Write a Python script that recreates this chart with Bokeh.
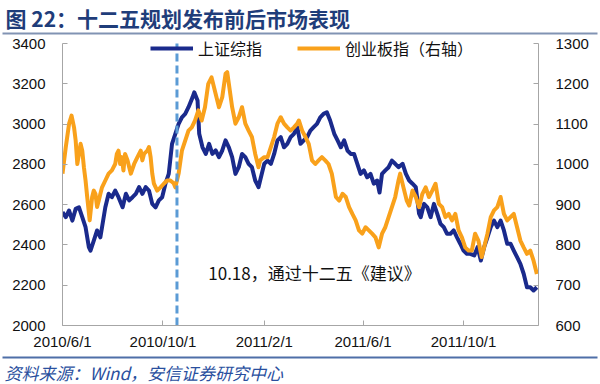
import pandas as pd
from bokeh.plotting import figure
from bokeh.layouts import column
from bokeh.core.properties import value
from bokeh.models import (Range1d, LinearAxis, FixedTicker, CustomJSTickFormatter,
                          Label, Legend, LegendItem, ColumnDataSource)
from bokeh.embed import file_html
from bokeh.resources import INLINE

# ---------------- data ----------------
sh_dates = [
    "2010-06-01", "2010-06-05", "2010-06-09", "2010-06-13", "2010-06-17", "2010-06-21", "2010-06-25", "2010-06-29",
    "2010-07-03", "2010-07-05", "2010-07-09", "2010-07-13", "2010-07-17", "2010-07-19", "2010-07-23", "2010-07-27",
    "2010-07-31", "2010-08-04", "2010-08-08", "2010-08-13", "2010-08-17", "2010-08-21", "2010-08-25", "2010-08-29",
    "2010-09-02", "2010-09-06", "2010-09-10", "2010-09-14", "2010-09-18", "2010-09-22", "2010-09-26", "2010-09-30",
    "2010-10-04", "2010-10-08", "2010-10-12", "2010-10-16", "2010-10-20", "2010-10-24", "2010-10-28", "2010-11-01",
    "2010-11-06", "2010-11-08", "2010-11-12", "2010-11-14", "2010-11-18", "2010-11-22", "2010-11-26", "2010-11-30",
    "2010-12-04", "2010-12-08", "2010-12-12", "2010-12-16", "2010-12-20", "2010-12-24", "2010-12-28", "2011-01-01",
    "2011-01-05", "2011-01-09", "2011-01-13", "2011-01-17", "2011-01-21", "2011-01-25", "2011-01-27", "2011-02-01",
    "2011-02-05", "2011-02-09", "2011-02-13", "2011-02-17", "2011-02-21", "2011-02-25", "2011-03-01", "2011-03-05",
    "2011-03-09", "2011-03-13", "2011-03-17", "2011-03-21", "2011-03-25", "2011-03-29", "2011-04-02", "2011-04-06",
    "2011-04-10", "2011-04-14", "2011-04-18", "2011-04-22", "2011-04-27", "2011-05-01", "2011-05-05", "2011-05-09",
    "2011-05-13", "2011-05-17", "2011-05-21", "2011-05-25", "2011-05-29", "2011-06-02", "2011-06-06", "2011-06-10",
    "2011-06-14", "2011-06-18", "2011-06-21", "2011-06-24", "2011-06-28", "2011-07-02", "2011-07-06", "2011-07-10",
    "2011-07-14", "2011-07-19", "2011-07-23", "2011-07-27", "2011-07-31", "2011-08-04", "2011-08-08", "2011-08-10",
    "2011-08-14", "2011-08-18", "2011-08-22", "2011-08-26", "2011-08-30", "2011-09-03", "2011-09-07", "2011-09-11",
    "2011-09-15", "2011-09-19", "2011-09-23", "2011-09-27", "2011-10-01", "2011-10-05", "2011-10-09", "2011-10-14",
    "2011-10-18", "2011-10-22", "2011-10-26", "2011-10-30", "2011-11-03", "2011-11-07", "2011-11-11", "2011-11-15",
    "2011-11-19", "2011-11-23", "2011-11-27", "2011-12-01", "2011-12-05", "2011-12-09", "2011-12-13", "2011-12-17",
    "2011-12-21", "2011-12-25", "2011-12-29",
]
sh_values = [
    2563, 2538, 2571, 2521, 2579, 2587, 2538, 2488,
    2389, 2372, 2422, 2472, 2438, 2488, 2587, 2654,
    2637, 2670, 2637, 2587, 2654, 2621, 2637, 2654,
    2687, 2654, 2687, 2670, 2604, 2587, 2621, 2637,
    2704, 2753, 2902, 2952, 3001, 3034, 3051, 3084,
    3134, 3158, 3117, 2952, 2885, 2852, 2902, 2852,
    2869, 2836, 2869, 2919, 2885, 2836, 2753, 2786,
    2852, 2836, 2803, 2786, 2720, 2687, 2720, 2803,
    2819, 2803, 2852, 2919, 2935, 2885, 2902, 2935,
    2952, 2985, 2902, 2919, 2935, 2968, 2985, 3001,
    3034, 3051, 3059, 3018, 2952, 2919, 2885, 2919,
    2869, 2852, 2852, 2803, 2753, 2770, 2736, 2753,
    2704, 2720, 2660, 2753, 2770, 2786, 2819, 2803,
    2786, 2803, 2753, 2720, 2704, 2687, 2555, 2538,
    2604, 2587, 2538, 2604, 2555, 2505, 2488, 2455,
    2455, 2472, 2438, 2406, 2372, 2356, 2356, 2348,
    2389, 2323, 2389, 2438, 2488, 2521, 2488, 2521,
    2472, 2406, 2406, 2372, 2339, 2306, 2257, 2190,
    2190, 2174, 2190,
]

cyb_dates = [
    "2010-06-01", "2010-06-05", "2010-06-09", "2010-06-12", "2010-06-15", "2010-06-17", "2010-06-19", "2010-06-21",
    "2010-06-23", "2010-06-25", "2010-06-27", "2010-06-29", "2010-07-01", "2010-07-04", "2010-07-07", "2010-07-09",
    "2010-07-11", "2010-07-13", "2010-07-15", "2010-07-17", "2010-07-19", "2010-07-23", "2010-07-27", "2010-07-31",
    "2010-08-04", "2010-08-06", "2010-08-08", "2010-08-10", "2010-08-12", "2010-08-14", "2010-08-16", "2010-08-19",
    "2010-08-21", "2010-08-23", "2010-08-27", "2010-08-31", "2010-09-04", "2010-09-06", "2010-09-08", "2010-09-12",
    "2010-09-14", "2010-09-16", "2010-09-18", "2010-09-20", "2010-09-24", "2010-09-28", "2010-10-02", "2010-10-06",
    "2010-10-10", "2010-10-14", "2010-10-16", "2010-10-20", "2010-10-24", "2010-10-28", "2010-11-01", "2010-11-05",
    "2010-11-09", "2010-11-13", "2010-11-17", "2010-11-21", "2010-11-25", "2010-11-29", "2010-12-04", "2010-12-08",
    "2010-12-12", "2010-12-16", "2010-12-18", "2010-12-20", "2010-12-24", "2010-12-28", "2011-01-01", "2011-01-05",
    "2011-01-09", "2011-01-13", "2011-01-17", "2011-01-21", "2011-01-25", "2011-01-27", "2011-02-01", "2011-02-05",
    "2011-02-09", "2011-02-13", "2011-02-17", "2011-02-21", "2011-02-25", "2011-03-01", "2011-03-05", "2011-03-09",
    "2011-03-13", "2011-03-15", "2011-03-19", "2011-03-23", "2011-03-27", "2011-03-31", "2011-04-04", "2011-04-08",
    "2011-04-12", "2011-04-16", "2011-04-20", "2011-04-24", "2011-04-29", "2011-05-03", "2011-05-07", "2011-05-11",
    "2011-05-15", "2011-05-19", "2011-05-23", "2011-05-27", "2011-05-31", "2011-06-04", "2011-06-08", "2011-06-12",
    "2011-06-16", "2011-06-20", "2011-06-24", "2011-06-28", "2011-07-02", "2011-07-06", "2011-07-10", "2011-07-14",
    "2011-07-16", "2011-07-20", "2011-07-24", "2011-07-27", "2011-07-31", "2011-08-04", "2011-08-08", "2011-08-12",
    "2011-08-16", "2011-08-20", "2011-08-24", "2011-08-28", "2011-09-01", "2011-09-05", "2011-09-09", "2011-09-13",
    "2011-09-17", "2011-09-21", "2011-09-25", "2011-09-29", "2011-10-03", "2011-10-07", "2011-10-11", "2011-10-15",
    "2011-10-19", "2011-10-23", "2011-10-26", "2011-10-30", "2011-11-03", "2011-11-07", "2011-11-11", "2011-11-15",
    "2011-11-19", "2011-11-23", "2011-11-27", "2011-12-01", "2011-12-05", "2011-12-09", "2011-12-13", "2011-12-17",
    "2011-12-21", "2011-12-25", "2011-12-29",
]
cyb_values = [
    977, 1043, 1101, 1121, 1092, 1059, 1001, 1026,
    1051, 1034, 993, 960, 919, 861, 919, 935,
    927, 894, 910, 927, 943, 960, 977, 985,
    1001, 1026, 1034, 1001, 1018, 985, 1026, 1010,
    993, 977, 1001, 1018, 1034, 1010, 1026, 1034,
    1043, 1018, 977, 952, 935, 943, 952, 960,
    960, 953, 943, 977, 1034, 1059, 1084, 1092,
    1109, 1134, 1109, 1142, 1200, 1216, 1175, 1142,
    1167, 1225, 1229, 1200, 1142, 1101, 1117, 1142,
    1101, 1084, 1068, 1026, 993, 1010, 1018, 1018,
    1043, 1068, 1101, 1117, 1101, 1092, 1084, 1092,
    1101, 1109, 1084, 1068, 1051, 1010, 1001, 1010,
    1018, 1010, 1001, 977, 919, 910, 927, 919,
    894, 877, 861, 836, 828, 844, 836, 828,
    819, 794, 828, 844, 869, 894, 919, 960,
    977, 943, 910, 898, 935, 919, 894, 927,
    943, 919, 935, 952, 902, 894, 869, 877,
    861, 877, 836, 819, 794, 786, 786, 828,
    811, 770, 794, 828, 869, 886, 894, 919,
    877, 861, 869, 877, 844, 811, 794, 778,
    786, 761, 728,
]

event_date = "2010-10-18"
event_text = "10.18，通过十二五《建议》"
series_names = ["上证综指", "创业板指（右轴）"]
x_tick_dates = ["2010-06-01", "2010-10-01", "2011-02-01", "2011-06-01", "2011-10-01"]
left_ticks = [2000, 2200, 2400, 2600, 2800, 3000, 3200, 3400]
right_ticks = [600, 700, 800, 900, 1000, 1100, 1200, 1300]
title_text = "图 22：十二五规划发布前后市场表现"
source_text = "资料来源：Wind，安信证券研究中心"

# ---------------- styling ----------------
BLUE = "#1a2a8c"
ORANGE = "#f9a11b"
DASH = "#5b9bd5"
AXIS = "#a6a6a6"
CJK = "Noto Sans CJK SC"
LAT = "Liberation Sans"
W = 600


def no_align(fig):
    if "frame_align" in fig.properties():
        fig.frame_align = False


# ---------------- title strip ----------------
top = figure(width=W, height=35, output_backend="svg", toolbar_location=None,
             x_range=Range1d(0, W), y_range=Range1d(35, 0),
             x_axis_location=None, y_axis_location=None,
             min_border_left=0, min_border_right=0, min_border_top=0, min_border_bottom=0)
no_align(top)
top.title.visible = False
top.outline_line_color = None
top.xgrid.visible = False
top.ygrid.visible = False
top.text(x=[5], y=[17], text=[title_text], text_font=value(CJK),
         text_font_size="21px", text_font_style="bold", text_color="#1f3d7a",
         text_baseline="middle", text_align="left")
top.segment(x0=[2], y0=[33], x1=[597], y1=[33], line_color="#8193b3", line_width=2)

# ---------------- main chart ----------------
x_start = pd.Timestamp("2010-06-01")
x_end = pd.Timestamp("2011-12-31")

p = figure(width=W, height=320, x_axis_type="datetime",
           output_backend="svg", toolbar_location=None,
           x_range=Range1d(x_start, x_end), y_range=Range1d(2000, 3440),
           min_border_left=62, min_border_right=62,
           min_border_top=0, min_border_bottom=30)
no_align(p)
p.title.visible = False
p.outline_line_color = None
p.xgrid.visible = False
p.ygrid.visible = False

p.extra_y_ranges = {"right": Range1d(600, 1320)}
raxis = LinearAxis(y_range_name="right")
p.add_layout(raxis, "right")

sh_src = ColumnDataSource(dict(x=pd.to_datetime(sh_dates), y=sh_values))
cyb_src = ColumnDataSource(dict(x=pd.to_datetime(cyb_dates), y=cyb_values))

r_sh = p.line("x", "y", source=sh_src, line_color=BLUE, line_width=4, line_join="round")
r_cyb = p.line("x", "y", source=cyb_src, line_color=ORANGE, line_width=4,
               line_join="round", y_range_name="right")

ev = pd.Timestamp(event_date)
p.segment(x0=[ev], y0=[left_ticks[0]], x1=[ev], y1=[left_ticks[-1]],
          line_color=DASH, line_width=3, line_dash="8 4")

x_tick_ms = [pd.Timestamp(d).value // 10**6 for d in x_tick_dates]
p.xaxis.ticker = FixedTicker(ticks=x_tick_ms)
p.xaxis.formatter = CustomJSTickFormatter(code="""
const d = new Date(tick);
return d.getUTCFullYear() + '/' + (d.getUTCMonth() + 1) + '/' + d.getUTCDate();
""")
p.yaxis[0].ticker = FixedTicker(ticks=left_ticks)
p.yaxis[0].bounds = (left_ticks[0], left_ticks[-1])
raxis.ticker = FixedTicker(ticks=right_ticks)
raxis.bounds = (right_ticks[0], right_ticks[-1])

for ax in [p.xaxis[0], p.yaxis[0], raxis]:
    ax.axis_line_color = AXIS
    ax.axis_line_width = 1
    ax.major_tick_line_color = AXIS
    ax.major_tick_in = 5
    ax.major_tick_out = 0
    ax.minor_tick_line_color = None
    ax.major_label_text_font = LAT
    ax.major_label_text_font_size = "15px"
    ax.major_label_text_color = "#111111"
p.yaxis[0].major_label_standoff = 17
raxis.major_label_standoff = 17
p.xaxis.major_label_standoff = 7

legend = Legend(items=[LegendItem(label=series_names[0], renderers=[r_sh]),
                       LegendItem(label=series_names[1], renderers=[r_cyb])],
                location=(88, 265), orientation="horizontal",
                glyph_width=43, glyph_height=20, label_height=20,
                label_standoff=5, spacing=35, padding=0, margin=0,
                border_line_color=None, background_fill_alpha=0,
                label_text_font=CJK, label_text_font_size="16px",
                label_text_color="#111111")
p.add_layout(legend)

p.add_layout(Label(x=pd.Timestamp("2010-11-25"), y=2263, text=event_text,
                   text_font=CJK, text_font_size="17px", text_color="#111111",
                   text_baseline="middle", text_align="left"))

# ---------------- source strip ----------------
bottom = figure(width=W, height=29, output_backend="svg", toolbar_location=None,
                x_range=Range1d(0, W), y_range=Range1d(29, 0),
                x_axis_location=None, y_axis_location=None,
                min_border_left=0, min_border_right=0, min_border_top=0, min_border_bottom=0)
no_align(bottom)
bottom.title.visible = False
bottom.outline_line_color = None
bottom.xgrid.visible = False
bottom.ygrid.visible = False
bottom.segment(x0=[2], y0=[2], x1=[597], y1=[2], line_color="#4f6fa8", line_width=2)
bottom.text(x=[4], y=[17], text=[source_text], text_font=value(CJK),
            text_font_size="17px", text_font_style="italic", text_color="#2a4f9e",
            text_baseline="middle", text_align="left")

layout = column(top, p, bottom, spacing=0)
open("out.html", "w").write(file_html(layout, INLINE))
